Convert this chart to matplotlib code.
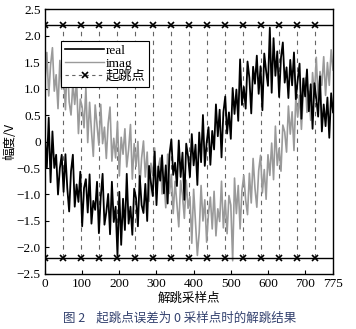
import matplotlib
matplotlib.use("Agg")
import matplotlib.pyplot as plt
import numpy as np
from matplotlib.lines import Line2D

# ── Data (one value every 5 samples) ──────────────────────────────────────────
samples = np.arange(0, 776, 5)

real = [
    0.10, -0.49, 0.45, -0.77, 0.19, -0.50, -0.25, -1.00, -0.50, -0.25,
    -0.95, -0.24, -0.88, -1.32, -0.56, -0.25, -1.23, -0.81, -1.14, -0.57,
    -1.60, -0.88, -0.71, -1.34, -0.62, -1.55, -1.12, -1.29, -0.76, -1.73,
    -1.05, -0.61, -1.57, -1.33, -0.99, -1.75, -0.76, -1.52, -1.23, -2.15,
    -0.95, -1.95, -1.08, -1.67, -0.61, -1.55, -1.23, -1.76, -0.89, -1.07,
    -1.60, -0.65, -1.20, -1.35, -0.80, -1.50, -0.46, -0.77, -1.03, -0.19,
    -1.20, -0.47, -0.74, -0.26, -0.98, -0.45, -1.17, -0.24, 0.04, -0.63,
    -0.40, -0.84, 0.02, -0.67, -0.21, -1.10, -0.04, -0.28, -0.67, 0.14,
    -0.45, -0.06, -0.82, 0.17, -0.39, 0.50, -0.46, -0.02, 0.27, -0.44,
    0.20, -0.15, 0.70, 0.10, 0.60, -0.30, 0.55, 0.85, 0.15, 0.55,
    0.05, 1.01, 0.52, 0.98, 0.39, 1.55, 0.69, 1.03, 0.62, 1.51,
    1.20, 0.53, 1.41, 1.09, 1.62, 0.90, 1.42, 0.59, 1.66, 1.33,
    1.05, 2.15, 0.92, 1.95, 1.24, 1.70, 0.84, 1.58, 1.87, 1.11,
    1.40, 0.82, 1.54, 1.06, 1.68, 0.80, 1.16, 1.47, 0.43, 1.19,
    0.85, 1.36, 0.57, 1.08, 0.24, 1.10, 0.81, 0.47, 1.23, 0.19,
    0.70, 0.29, 0.83, 0.07, 0.91, 0.55,
]

imag = [
    1.15, 1.68, 0.86, 1.44, 1.77, 0.95, 1.26, 0.62, 1.53, 0.99,
    1.30, 0.60, 1.55, 0.75, 0.50, 1.10, 0.70, 1.15, 0.15, 0.80,
    0.65, 0.26, 1.02, -0.02, 0.74, 0.20, -0.28, 0.69, 0.31, -0.07,
    0.70, -0.04, 0.27, -0.32, 0.34, 0.65, -0.37, 0.06, -0.31, 0.37,
    -0.65, 0.08, -0.24, 0.24, -0.48, -0.15, 0.32, -0.71, -0.04, -0.47,
    0.00, -0.88, -0.31, 0.01, -0.67, -0.20, -1.13, -0.41, -0.64, -0.12,
    -1.00, -0.48, -0.31, -0.99, -0.72, -1.25, -0.24, -0.98, -0.62, -1.36,
    -0.75, -1.18, -1.61, -0.74, -1.02, -1.45, -0.73, -1.26, -1.04, -1.92,
    -0.90, -1.52, -2.15, -1.71, -0.83, -1.50, -1.10, -1.90, -1.35, -1.05,
    -1.65, -0.94, -1.78, -1.27, -1.51, -0.75, -1.63, -1.11, -1.74, -1.02,
    -1.20, -2.25, -0.69, -1.36, -0.83, -1.65, -0.92, -0.64, -1.11, -1.38,
    -0.60, -1.16, -0.32, -0.88, -1.24, -0.55, -0.26, -0.97, -0.53, -1.09,
    -0.25, -0.64, -0.03, -0.72, 0.29, -0.45, -0.13, -0.56, 0.31, 0.18,
    -0.20, 0.67, 0.14, 0.56, -0.17, 0.85, 0.46, 0.87, 0.23, 0.89,
    1.20, 0.55, 0.95, 0.40, 1.30, 0.85, 1.59, 0.78, 1.32, 1.06,
    1.60, 0.87, 1.49, 1.06, 1.73, 1.35,
]

jump_points = [0, 48, 97, 145, 194, 242, 291, 339, 388, 436, 484, 533, 581, 630, 678, 727]
jump_level = 2.2

x_ticks = [0, 100, 200, 300, 400, 500, 600, 700, 775]
y_ticks = [-2.5, -2.0, -1.5, -1.0, -0.5, 0, 0.5, 1.0, 1.5, 2.0, 2.5]
y_tick_labels = ["\u22122.5", "\u22122.0", "\u22121.5", "\u22121.0", "\u22120.5", "0",
                 "0.5", "1.0", "1.5", "2.0", "2.5"]

SERIF = ["Liberation Serif", "Noto Sans CJK SC"]
CJK = ["Noto Sans CJK SC", "Liberation Serif"]
GRAY = "#9a9a9a"

# ── Plot ──────────────────────────────────────────────────────────────────────
plt.rcParams["font.family"] = SERIF
fig = plt.figure(figsize=(3.56, 3.29), dpi=100)
ax = fig.add_axes([0.1264, 0.1672, 0.8090, 0.8054])

for xp in jump_points[1:]:
    ax.plot([xp, xp], [-jump_level, jump_level], color="#666666", lw=0.8,
            ls=(0, (4, 4)), zorder=1)

ax.plot(samples, imag, color=GRAY, lw=1.2, zorder=2)
ax.plot(samples, real, color="black", lw=1.3, zorder=3)

for lvl in (jump_level, -jump_level):
    ax.axhline(lvl, color="black", lw=1.0, zorder=4)
    ax.plot(jump_points, [lvl] * len(jump_points), ls="none", marker="x",
            ms=4, mew=1.2, color="black", zorder=5)

ax.set_xlim(0, 775)
ax.set_ylim(-2.5, 2.5)
ax.set_xticks(x_ticks)
ax.set_yticks(y_ticks)
ax.set_yticklabels(y_tick_labels)
ax.tick_params(direction="in", length=3, width=0.8, labelsize=9.5, pad=3)
for sp in ax.spines.values():
    sp.set_linewidth(1.0)

ax.set_xlabel("解跳采样点", family=CJK, fontsize=9, labelpad=1)
ax.set_ylabel("幅度/V", family=CJK, fontsize=9, labelpad=0)

handles = [
    Line2D([], [], color="black", lw=1.2),
    Line2D([], [], color=GRAY, lw=1.0),
    Line2D([], [], color="#666666", lw=0.8, ls=(0, (3, 3)), marker="x",
           ms=4, mew=1.2, mec="black"),
]
leg = ax.legend(handles, ["real", "imag", "起跳点"], loc="upper left",
                bbox_to_anchor=(0.055, 0.88), fontsize=9.5, handlelength=3.0,
                handletextpad=0.1, labelspacing=0.05, borderpad=0.3,
                borderaxespad=0, frameon=True, fancybox=False, framealpha=1)
leg.get_frame().set_edgecolor("black")
leg.get_frame().set_linewidth(0.8)
for t in leg.get_texts():
    t.set_family(SERIF)

fig.text(0.505, 0.033, "图 2    起跳点误差为 0 采样点时的解跳结果", family=CJK,
         fontsize=9, color="#33416e", ha="center", va="center")

fig.savefig("out.png", dpi=100)
plt.close(fig)
